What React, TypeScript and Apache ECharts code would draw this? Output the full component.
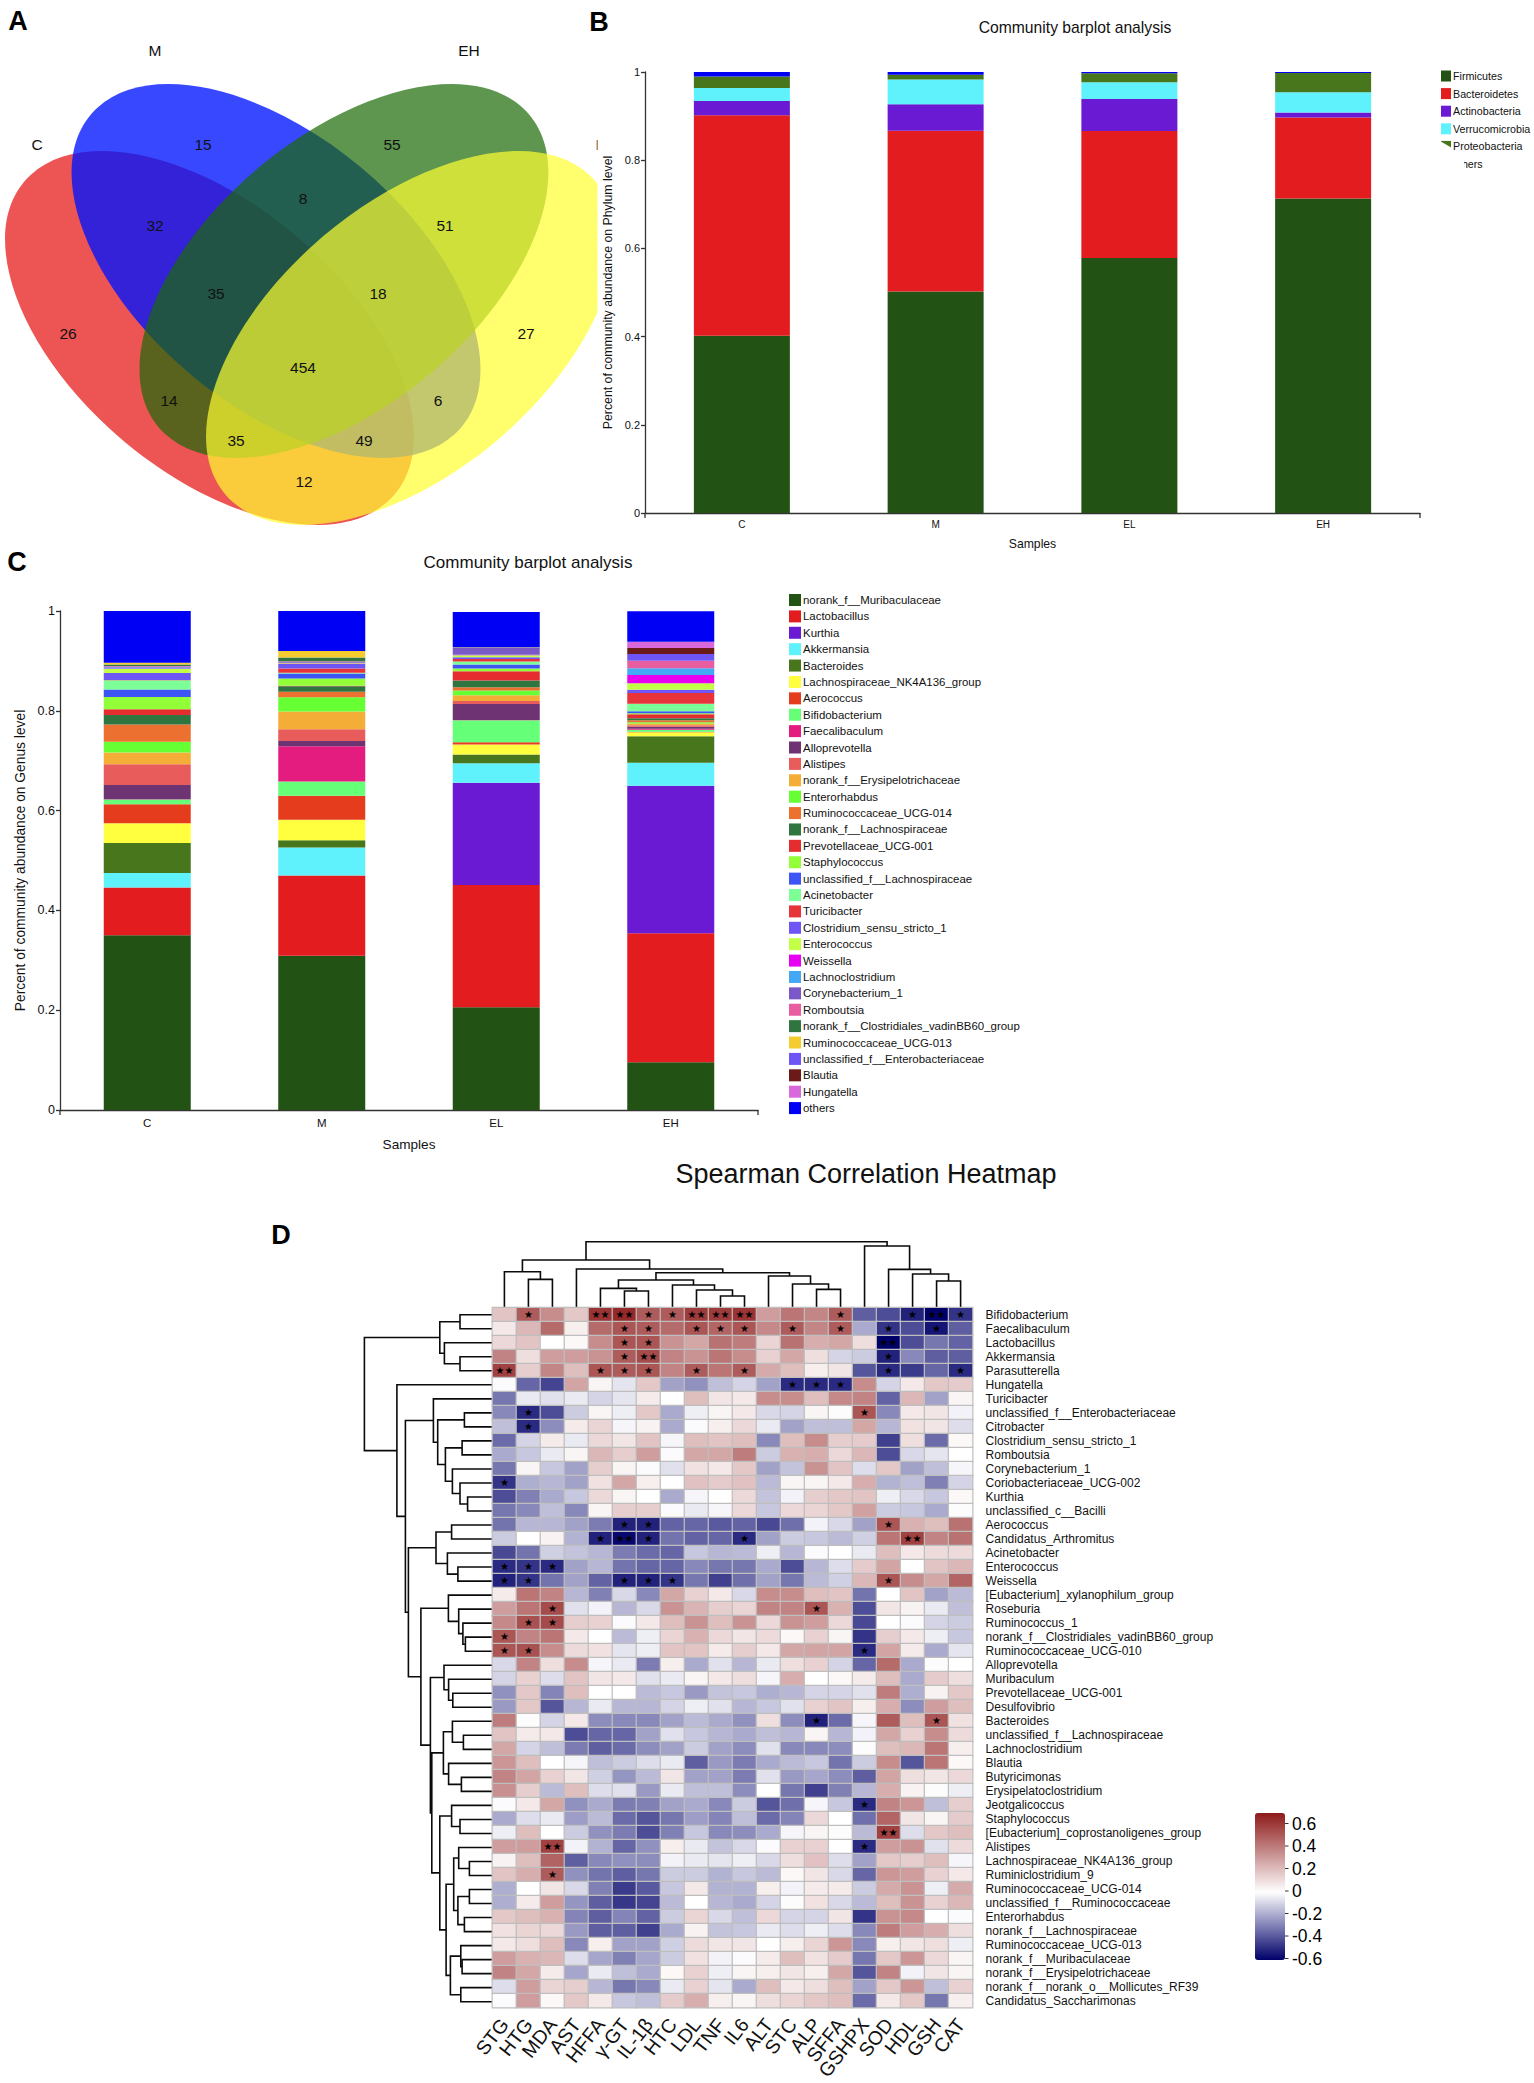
import React, { useEffect, useRef } from "react";
import * as echarts from "echarts";

const FONT = "Liberation Sans";
const INK = "#111111";

// ---------- Panel A ----------
const vennSets = [
  { name: "C", cx: 209.5, cy: 338, tilt: -1, fill: "rgba(230,20,20,0.72)" },
  { name: "M", cx: 276, cy: 271, tilt: -1, fill: "rgba(0,20,255,0.78)" },
  { name: "EH", cx: 344, cy: 271, tilt: 1, fill: "rgba(26,105,5,0.7)" },
  { name: "EL", cx: 410.5, cy: 338, tilt: 1, fill: "rgba(255,255,48,0.7)" },
];
const vennLabels: [string, number, number][] = [
  ["C", 37, 144], ["M", 155, 50], ["EH", 469, 50], ["EL", 605, 144],
];
const vennCounts: [string, number, number][] = [
  ["15", 203, 144], ["55", 392, 144], ["8", 303, 198], ["32", 155, 225], ["51", 445, 225],
  ["35", 216, 293], ["18", 378, 293], ["26", 68, 333], ["27", 526, 333], ["454", 303, 367],
  ["14", 169, 400], ["6", 438, 400], ["35", 236, 440], ["49", 364, 440], ["12", 304, 481],
];

// ---------- Panel B ----------
const samples = ["C", "M", "EL", "EH"];
const phylumNames = ["Firmicutes", "Bacteroidetes", "Actinobacteria", "Verrucomicrobia", "Proteobacteria", "others"];
const phylumColors = ["#225214", "#E31C1F", "#6A1AD2", "#5FF2FC", "#48761D", "#0000F5"];
const firmicutes = [0.402, 0.502, 0.578, 0.713];
const bacteroidetes = [0.5, 0.365, 0.288, 0.184];
const actinobacteria = [0.032, 0.06, 0.073, 0.011];
const verrucomicrobia = [0.03, 0.056, 0.038, 0.046];
const proteobacteria = [0.026, 0.011, 0.02, 0.044];
const phylumOthers = [0.01, 0.006, 0.003, 0.002];
const phylumValues = [firmicutes, bacteroidetes, actinobacteria, verrucomicrobia, proteobacteria, phylumOthers];

// ---------- Panel C ----------
const genusNames = [
  "norank_f__Muribaculaceae", "Lactobacillus", "Kurthia", "Akkermansia", "Bacteroides",
  "Lachnospiraceae_NK4A136_group", "Aerococcus", "Bifidobacterium", "Faecalibaculum", "Alloprevotella",
  "Alistipes", "norank_f__Erysipelotrichaceae", "Enterorhabdus", "Ruminococcaceae_UCG-014", "norank_f__Lachnospiraceae",
  "Prevotellaceae_UCG-001", "Staphylococcus", "unclassified_f__Lachnospiraceae", "Acinetobacter", "Turicibacter",
  "Clostridium_sensu_stricto_1", "Enterococcus", "Weissella", "Lachnoclostridium", "Corynebacterium_1",
  "Romboutsia", "norank_f__Clostridiales_vadinBB60_group", "Ruminococcaceae_UCG-013", "unclassified_f__Enterobacteriaceae",
  "Blautia", "Hungatella", "others",
];
const genusColors = [
  "#225214", "#E31C1F", "#6A1AD2", "#5FF2FC", "#48761D", "#FFFF40", "#E63C1E", "#66FF78",
  "#E51C7F", "#6E3372", "#E85C5C", "#F4AD36", "#66FF33", "#EC7030", "#2E7540", "#E52D30",
  "#92FF38", "#3D55F5", "#7BFF96", "#E63438", "#6E55F5", "#C2FF45", "#E800F0", "#45A8F5",
  "#7B58C8", "#E85CA0", "#2E7540", "#F5CC30", "#6E55F5", "#6B1A1A", "#D868DC", "#0000F5",
];
const genusC = [.350, .096, 0, .029, .060, .0395, .038, .0095, .0005, .029, .0416, .0234, .0217, .0343, .019, .0117, .0243, .015, .0185, .0005, .0145, .0077, .001, .002, .002, .001, .003, .0037, 0, 0, 0, .1046];
const genusM = [.309, .161, 0, .056, .0144, .0412, .0484, .0285, .0705, .0103, .0237, .0357, .0283, .0114, .011, .0006, .0145, .0103, .0016, .0086, .0088, .0016, .0004, .0007, .002, .001, .0075, .013, 0, 0, 0, .08];
const genusEL = [.206, .245, .205, .039, .0174, .0201, .0045, .044, .0005, .032, .006, .0117, .0093, .0067, .0133, .0187, .0054, .008, .006, .0054, .0033, .004, .0005, .0005, .0135, .0005, .0005, .0005, 0, 0, 0, .0708];
const genusEH = [.0959, .2581, .2958, .0459, .0531, .008, .001, .004, .002, .004, .003, .0035, .0026, .004, .004, .008, .0024, .004, .015, .0213, .0067, .0127, .0167, .0134, .0003, .015, 0, 0, .0133, .012, .0128, .0608];
const genusBySample = [genusC, genusM, genusEL, genusEH];

// ---------- Panel D ----------
const heatCols = ["STG", "HTG", "MDA", "AST", "HFFA", "γ-GT", "IL-1β", "HTC", "LDL", "TNF", "IL6", "ALT", "STC", "ALP", "SFFA", "GSHPX", "SOD", "HDL", "GSH", "CAT"];
const heatRows = [
  "Bifidobacterium", "Faecalibaculum", "Lactobacillus", "Akkermansia", "Parasutterella", "Hungatella", "Turicibacter",
  "unclassified_f__Enterobacteriaceae", "Citrobacter", "Clostridium_sensu_stricto_1", "Romboutsia", "Corynebacterium_1",
  "Coriobacteriaceae_UCG-002", "Kurthia", "unclassified_c__Bacilli", "Aerococcus", "Candidatus_Arthromitus", "Acinetobacter",
  "Enterococcus", "Weissella", "[Eubacterium]_xylanophilum_group", "Roseburia", "Ruminococcus_1",
  "norank_f__Clostridiales_vadinBB60_group", "Ruminococcaceae_UCG-010", "Alloprevotella", "Muribaculum", "Prevotellaceae_UCG-001",
  "Desulfovibrio", "Bacteroides", "unclassified_f__Lachnospiraceae", "Lachnoclostridium", "Blautia", "Butyricimonas",
  "Erysipelatoclostridium", "Jeotgalicoccus", "Staphylococcus", "[Eubacterium]_coprostanoligenes_group", "Alistipes",
  "Lachnospiraceae_NK4A136_group", "Ruminiclostridium_9", "Ruminococcaceae_UCG-014", "unclassified_f__Ruminococcaceae",
  "Enterorhabdus", "norank_f__Lachnospiraceae", "Ruminococcaceae_UCG-013", "norank_f__Muribaculaceae",
  "norank_f__Erysipelotrichaceae", "norank_f__norank_o__Mollicutes_RF39", "Candidatus_Saccharimonas",
];
const heatValues = [
  [.18, .5, .35, .17, .62, .65, .5, .5, .6, .6, .62, .3, .42, .37, .5, -.38, -.42, -.52, -.6, -.48],
  [.07, .22, .45, .05, .45, .52, .5, .45, .52, .47, .52, .36, .5, .37, .5, -.2, -.48, -.42, -.55, -.38],
  [.12, .18, 0, .02, .35, .52, .52, .33, .27, .43, .4, .13, .43, .25, .27, .1, -.6, -.42, -.32, -.37],
  [.38, .1, .3, .3, .33, .5, .55, .38, .33, .42, .35, .14, .27, .1, -.1, -.12, -.52, -.28, -.38, -.38],
  [.58, .15, .37, .2, .52, .5, .52, .38, .5, .42, .5, .26, .2, .05, .08, -.4, -.5, -.46, -.36, -.5],
  [-.01, -.36, -.44, .28, .03, -.06, .17, -.22, -.26, -.15, -.1, -.22, -.5, -.5, -.5, .35, -.1, .07, .17, .16],
  [-.32, -.05, -.07, -.05, -.1, -.06, .06, 0, .2, .08, .07, .35, .35, .2, .36, .38, -.37, .22, -.22, .03],
  [-.28, -.5, -.42, -.12, .03, -.04, .17, -.2, -.04, .03, .07, -.09, -.1, .03, .01, .52, -.28, .07, .08, -.03],
  [-.15, -.5, -.27, .06, .13, -.02, .04, -.2, -.01, .05, .12, -.05, -.22, -.15, -.15, .27, -.17, .09, .08, -.08],
  [-.35, -.1, .06, -.05, .12, .08, .18, -.02, .2, .18, .2, -.28, .2, .35, .15, .16, -.45, .1, -.35, .02],
  [-.2, -.13, -.05, .03, .22, .15, .3, -.01, .27, .27, .4, -.12, .24, .25, .12, .22, -.42, -.09, -.06, 0],
  [-.32, .03, -.13, -.22, .15, .03, -.01, -.07, .09, .07, .17, -.22, -.14, .33, .18, -.08, .17, -.22, -.15, -.02],
  [-.48, -.19, -.17, -.22, .09, .27, .05, 0, .19, .16, .19, -.16, .03, .03, .07, .25, -.18, -.15, -.3, -.1],
  [-.42, -.3, -.2, -.13, .12, .03, 0, -.2, -.02, 0, .12, -.14, -.03, .15, .17, .18, -.04, -.09, -.13, .02],
  [-.32, -.28, -.15, -.28, .03, .15, .15, -.01, -.05, -.02, .12, -.13, .12, .13, .17, .29, -.12, -.13, -.2, .01],
  [-.33, -.17, -.17, -.22, -.31, -.52, -.52, -.37, -.36, -.39, -.37, -.43, -.34, -.03, -.09, -.22, .52, .24, .2, .43],
  [-.12, 0, .04, -.18, -.52, -.58, -.52, -.33, -.37, -.36, -.5, -.22, -.12, -.13, -.16, -.11, .42, .58, .38, .43],
  [-.43, -.33, -.11, -.14, -.17, -.31, -.35, -.36, -.13, -.17, -.16, -.04, -.17, -.01, 0, -.05, .2, .07, .11, .11],
  [-.5, -.48, -.5, -.22, -.17, -.33, -.36, -.36, -.28, -.32, -.32, -.2, -.42, -.17, -.08, .16, .28, 0, .18, .22],
  [-.52, -.48, -.33, -.22, -.37, -.52, -.52, -.48, -.32, -.45, -.34, -.22, -.32, -.16, -.11, .22, .52, .35, .27, .47],
  [.06, .42, .38, -.17, -.3, -.09, -.28, .27, .14, .07, -.09, .35, .35, .2, .18, -.33, 0, .18, -.22, -.16],
  [.3, .42, .55, -.07, -.03, -.17, -.09, .33, .23, .15, .13, .38, .38, .52, .24, -.42, .08, .04, -.05, -.15],
  [.36, .53, .55, .15, .14, -.01, .07, .2, .33, .2, .33, .12, .33, .3, .12, -.43, 0, -.01, -.1, -.12],
  [.52, .38, .42, .07, 0, -.16, -.04, .13, .24, .12, .08, .11, .02, .14, .03, -.48, .15, .07, -.04, -.13],
  [.52, .53, .35, .11, .09, -.06, -.04, .18, .18, .06, .15, .07, .27, .28, .28, -.5, .28, .06, -.2, -.06],
  [-.09, .38, .1, .35, -.02, -.05, -.31, .05, -.2, -.07, -.17, -.05, .1, .14, -.1, -.36, .45, -.2, .01, 0],
  [-.1, .14, -.08, .18, .08, .07, -.07, -.05, .03, .07, .1, -.02, .25, 0, .02, .06, .2, -.2, .16, .1],
  [-.26, .17, -.29, .2, 0, 0, -.16, -.13, -.24, -.14, -.13, -.19, -.17, -.1, -.1, -.07, .4, -.19, .04, .17],
  [-.24, .17, -.4, -.17, -.05, -.17, -.17, -.1, -.04, -.07, -.17, -.13, -.07, .14, .18, .05, .25, -.27, .3, .2],
  [.4, .01, -.1, .07, -.27, -.28, -.28, -.22, -.16, -.2, -.26, .1, -.27, -.52, -.35, -.02, .5, .2, .52, .09],
  [.18, .06, .07, -.42, -.36, -.36, -.22, -.07, -.13, -.17, -.2, -.15, -.17, .03, -.17, -.03, .27, .14, .35, .11],
  [.27, -.1, -.15, -.31, -.38, -.35, -.27, -.22, -.12, -.22, -.27, -.07, -.28, -.28, -.27, .01, .2, .22, .42, .05],
  [.32, .2, 0, -.02, -.15, -.12, -.08, -.05, -.38, -.24, -.31, -.2, -.16, -.13, -.33, -.12, .35, -.4, .42, .02],
  [.38, .28, .14, .08, -.11, -.25, -.16, .08, -.22, -.22, -.31, -.07, -.24, -.21, -.27, -.38, .28, .1, .08, .12],
  [.34, .15, -.16, .2, -.08, -.07, -.24, -.05, -.15, -.15, -.27, 0, -.32, -.45, -.3, -.17, .25, .04, .01, -.04],
  [-.01, .07, .27, -.26, -.2, -.31, -.3, -.22, -.2, -.28, -.12, -.4, -.34, -.02, -.13, -.5, .38, .32, -.15, .15],
  [-.2, -.08, -.05, -.23, -.16, -.35, -.4, -.32, -.23, -.29, -.15, -.35, -.29, .12, 0, -.34, .47, .08, .03, .16],
  [-.04, .2, 0, -.12, -.26, -.31, -.42, -.3, -.13, -.28, -.27, -.2, -.02, .03, .01, -.16, .58, -.08, .17, .2],
  [.3, .3, .58, -.03, -.18, -.36, -.26, .05, -.05, -.14, -.09, -.01, .14, .14, 0, -.5, .3, .33, -.07, .11],
  [.04, .2, .48, -.38, -.28, -.26, -.27, -.03, -.05, -.06, -.04, -.09, .1, .19, -.08, -.22, .17, .15, .2, -.02],
  [.18, .25, .5, -.26, -.33, -.38, -.32, -.12, -.12, -.18, -.13, -.16, .02, .08, -.09, -.36, .32, .3, .14, .07],
  [-.19, 0, .08, -.09, -.3, -.46, -.39, -.13, .07, -.18, -.18, .05, -.03, .06, .06, -.12, .26, .33, -.04, .26],
  [-.19, .06, .3, -.25, -.38, -.47, -.44, -.16, 0, -.17, -.2, -.1, .01, .09, -.09, -.16, .2, .33, .14, .22],
  [.17, .2, .24, -.29, -.38, -.29, -.37, -.12, .13, -.09, -.15, .12, -.1, -.1, .08, -.48, .33, .36, 0, -.01],
  [.09, .13, .12, -.24, -.38, -.38, -.45, -.2, .04, -.14, -.13, -.05, -.08, -.04, -.08, -.28, .4, .3, .25, .1],
  [.07, .1, .2, -.28, .05, -.22, -.22, -.11, .11, .08, .08, 0, .05, .13, .32, -.28, .05, .08, .1, -.04],
  [.3, .24, .22, -.08, -.21, -.3, -.21, -.12, .09, -.03, -.01, .06, .2, .09, .16, -.32, .17, .32, .12, .03],
  [.38, .27, .06, -.21, -.05, -.15, -.2, .02, .14, -.04, .03, .05, .08, .05, .27, -.4, .38, -.03, .08, .03],
  [-.08, .3, .13, .15, -.17, -.32, -.28, -.05, .14, -.06, -.2, .2, .07, .1, .2, -.22, .17, .32, -.15, .14],
  [-.01, .3, .02, .17, .07, -.13, -.15, .16, .25, .05, .03, .1, .13, .17, .2, -.35, .07, .17, -.32, .05],
];
// row -> [column, number of stars]
const starCells: Record<number, [number, number][]> = {
  0: [[1, 1], [4, 2], [5, 2], [6, 1], [7, 1], [8, 2], [9, 2], [10, 2], [14, 1], [17, 1], [18, 2], [19, 1]],
  1: [[5, 1], [6, 1], [8, 1], [9, 1], [10, 1], [12, 1], [14, 1], [16, 1], [18, 1]],
  2: [[5, 1], [6, 1], [16, 2]],
  3: [[5, 1], [6, 2], [16, 1]],
  4: [[0, 2], [4, 1], [5, 1], [6, 1], [8, 1], [10, 1], [16, 1], [19, 1]],
  5: [[12, 1], [13, 1], [14, 1]],
  7: [[1, 1], [15, 1]],
  8: [[1, 1]],
  12: [[0, 1]],
  15: [[5, 1], [6, 1], [16, 1]],
  16: [[4, 1], [5, 2], [6, 1], [10, 1], [17, 2]],
  18: [[0, 1], [1, 1], [2, 1]],
  19: [[0, 1], [1, 1], [5, 1], [6, 1], [7, 1], [16, 1]],
  21: [[2, 1], [13, 1]],
  22: [[1, 1], [2, 1]],
  23: [[0, 1]],
  24: [[0, 1], [1, 1], [15, 1]],
  29: [[13, 1], [18, 1]],
  35: [[15, 1]],
  37: [[16, 2]],
  38: [[2, 2], [15, 1]],
  40: [[2, 1]],
};
const colorbarTicks = [0.6, 0.4, 0.2, 0, -0.2, -0.4, -0.6];
const heatPalette = [
  "#00006B", "#2A2A82", "#55559C", "#8080B5", "#AAAACE", "#D4D4E6", "#FFFFFF",
  "#EFDEDE", "#DFBEBE", "#CF9D9D", "#BE7C7C", "#AE5B5B", "#9E3B3B", "#8E1A1A",
];

// dendrograms: a leaf is an index, a merge is [height, branch, branch]
type Tree = number | [number, Tree, Tree];
const colTree: Tree = [66,
  [47.7,
    [36, 0, [28.3, 1, 2]],
    [38.7, 3,
      [35,
        [27.7,
          [19.3, 4, [16.7, 5, 6]],
          [22.7, 7, [17.7, 8, [11.7, 9, 10]]]],
        [31.7, 11, [23.7, 12, [18.3, 13, 14]]]]]],
  [61.7, 15, [38.3, 16, [33.7, 17, [26.7, 18, 19]]]],
];
const rowClusterTop: Tree = [52.6, [32.4, 0, 1], [48, 2, [32.4, 3, 4]]];
const rowClusterBlueA: Tree = [59, 6,
  [54.7,
    [28, 7, 8],
    [47, [30.3, 9, 10], [40, 11, [32.4, 12, [24.8, 13, 14]]]]]];
const rowClusterBlueB: Tree = [56.4, [40.8, 15, 16], [45, 17, [34.5, 18, 19]]];
const rowClusterRed: Tree = [44, 20, [33.7, 21, [29.5, 22, [27, 23, 24]]]];
const rowClusterMid: Tree = [48.4, 25, [43.8, 26, [39.6, 27, 28]]];
const rowClusterLow: Tree = [49, [40, 29, [29, 30, 31]], [43.8, 32, [31, 33, 34]]];
const rowClusterTail: Tree = [52.6,
  [40.8, 35, [32.4, 36, 37]],
  [46.3,
    [38.7, [33.7, 38, [23, 39, 40]], [34.5, [23, 41, 42], [28, 43, 44]]],
    [42, [31.6, 45, [30.3, 46, 47]], [31.6, 48, 49]]]];
const rowTree: Tree = [128,
  rowClusterTop,
  [95.5, 5,
    [87,
      rowClusterBlueA,
      [84,
        rowClusterBlueB,
        [71.5,
          rowClusterRed,
          [62, rowClusterMid, [60.6, rowClusterLow, rowClusterTail]]]]]],
];

const H = { left: 492.4, top: 1307.7, width: 480.2, height: 701 };

function dendro(tree: Tree, leafPos: (i: number) => number, toPoint: (pos: number, h: number) => number[]) {
  const lines: any[] = [];
  const walk = (t: Tree): { pos: number; h: number } => {
    if (typeof t === "number") return { pos: leafPos(t), h: 0 };
    const a = walk(t[1]);
    const b = walk(t[2]);
    lines.push({
      type: "polyline",
      shape: { points: [toPoint(a.pos, a.h), toPoint(a.pos, t[0]), toPoint(b.pos, t[0]), toPoint(b.pos, b.h)] },
      style: { stroke: "#0a0a0a", lineWidth: 1.6, fill: "none" },
      silent: true,
    });
    return { pos: (a.pos + b.pos) / 2, h: t[0] };
  };
  walk(tree);
  return lines;
}

function text(s: string, x: number, y: number, fontSize: number, extra: any = {}) {
  return {
    type: "text", x, y, silent: true,
    style: { text: s, fontSize, fontFamily: FONT, fill: INK, align: "center", verticalAlign: "middle", ...extra },
  };
}

function buildOption() {
  const cellW = H.width / heatCols.length;
  const cellH = H.height / heatRows.length;
  const graphic: any[] = [];

  // Venn
  vennSets.forEach((s) => {
    graphic.push({
      type: "group", x: s.cx, y: s.cy, scaleX: 2.045, scaleY: 1.87, silent: true,
      children: [{
        type: "ellipse", rotation: (s.tilt * Math.PI) / 4,
        shape: { cx: 0, cy: 0, rx: 123.5, ry: 68.8 }, style: { fill: s.fill }, silent: true,
      }],
    });
  });
  vennLabels.forEach(([t, x, y]) => graphic.push(text(t, x, y, 15.5)));
  vennCounts.forEach(([t, x, y]) => graphic.push(text(t, x, y, 15.5)));
  graphic.push({ type: "rect", shape: { x: 597.5, y: 130, width: 22, height: 230 }, style: { fill: "#fff" }, z: 1, silent: true });

  // panel letters
  graphic.push(text("A", 18, 21, 27, { fontWeight: "bold", fill: "#000" }));
  graphic.push(text("B", 599, 22, 27, { fontWeight: "bold", fill: "#000" }));
  graphic.push(text("C", 17, 562, 27, { fontWeight: "bold", fill: "#000" }));
  graphic.push(text("D", 281, 1235, 27, { fontWeight: "bold", fill: "#000" }));

  // legend B
  phylumNames.forEach((n, i) => {
    const y = 76 + i * 17.6;
    graphic.push({ type: "rect", shape: { x: 1441, y: y - 5.5, width: 10, height: 11 }, style: { fill: phylumColors[i] }, silent: true });
    graphic.push(text(n, 1453, y, 10.7, { align: "left" }));
  });
  graphic.push({ type: "polygon", shape: { points: [[1440, 141], [1452, 148], [1452, 152], [1440, 152]] }, style: { fill: "#fff" }, z: 10, silent: true });
  graphic.push({ type: "rect", shape: { x: 1438, y: 156, width: 26, height: 16 }, style: { fill: "#fff" }, z: 10, silent: true });

  // legend C
  genusNames.forEach((n, i) => {
    const y = 600 + i * 16.39;
    graphic.push({ type: "rect", shape: { x: 789, y: y - 6, width: 12, height: 12 }, style: { fill: genusColors[i] }, silent: true });
    graphic.push(text(n, 803, y, 11.45, { align: "left" }));
  });

  // axis end ticks
  [[645, 513], [1420, 513], [60, 1110], [758, 1110]].forEach(([x, y]) =>
    graphic.push({ type: "line", shape: { x1: x, y1: y, x2: x, y2: y + 5 }, style: { stroke: "#333", lineWidth: 1.3 }, silent: true }));

  // dendrograms
  graphic.push(...dendro(colTree, (i) => H.left + cellW * (i + 0.5), (p, h) => [p, H.top - h]));
  graphic.push(...dendro(rowTree, (i) => H.top + cellH * (i + 0.5), (p, h) => [H.left - h, p]));

  // colour bar ticks
  colorbarTicks.forEach((v) => {
    const y = 1891 - v * 112.5;
    graphic.push({ type: "line", shape: { x1: 1285, y1: y, x2: 1288.5, y2: y }, style: { stroke: "#333", lineWidth: 1 }, silent: true });
    graphic.push(text(String(v), 1292, y, 17.5, { align: "left", fill: "#000" }));
  });

  const baseAxisLine = { lineStyle: { color: "#333", width: 1.3 } };
  const catAxis = (gridIndex: number, fontSize: number, nameSize: number, margin: number, nameGap: number) => ({
    type: "category", gridIndex, data: samples, name: "Samples", nameLocation: "middle", nameGap,
    nameTextStyle: { fontSize: nameSize, color: INK, fontFamily: FONT },
    axisLine: baseAxisLine,
    axisTick: { alignWithLabel: true, length: 5, lineStyle: { color: "#333", width: 1.3 } },
    axisLabel: { fontSize, color: INK, fontFamily: FONT, margin },
  });
  const valAxis = (gridIndex: number, name: string, fontSize: number, nameSize: number, nameGap: number) => ({
    type: "value", gridIndex, min: 0, max: 1, interval: 0.2, name, nameLocation: "middle", nameGap, z: 3,
    nameTextStyle: { fontSize: nameSize, color: INK, fontFamily: FONT },
    axisLine: { show: true, ...baseAxisLine },
    axisTick: { show: true, length: 4, lineStyle: { color: "#333", width: 1.3 } },
    axisLabel: { fontSize, color: INK, fontFamily: FONT, margin: 5 },
    splitLine: { show: false },
  });

  const series: any[] = [];
  phylumNames.forEach((n, i) => series.push({
    type: "bar", name: n, stack: "phylum", xAxisIndex: 0, yAxisIndex: 0, barWidth: 96,
    data: phylumValues[i], itemStyle: { color: phylumColors[i] },
  }));
  genusNames.forEach((n, i) => series.push({
    type: "bar", name: n, stack: "genus", xAxisIndex: 1, yAxisIndex: 1, barWidth: 87,
    data: genusBySample.map((g) => g[i]), itemStyle: { color: genusColors[i] },
  }));

  const starLookup = new Map<string, number>();
  Object.entries(starCells).forEach(([r, list]) => list.forEach(([c, n]) => starLookup.set(`${c}_${r}`, n)));
  const heatData: any[] = [];
  heatValues.forEach((row, r) => row.forEach((v, c) => heatData.push([c, r, v])));
  const heatIndex = series.length;
  series.push({
    type: "heatmap", xAxisIndex: 2, yAxisIndex: 2, data: heatData,
    itemStyle: { borderColor: "#BEBEBE", borderWidth: 1.2 },
    label: {
      show: true, fontSize: 10, color: "#000", fontFamily: "DejaVu Sans",
      formatter: (p: any) => "★".repeat(starLookup.get(`${p.data[0]}_${p.data[1]}`) || 0),
    },
    emphasis: { disabled: true },
  });

  return {
    animation: false,
    backgroundColor: "#fff",
    textStyle: { fontFamily: FONT },
    title: [
      { text: "Community barplot analysis", left: 1070, top: 14, textAlign: "center", textStyle: { fontSize: 15.7, fontWeight: "normal", color: INK, fontFamily: FONT } },
      { text: "Community barplot analysis", left: 523, top: 549, textAlign: "center", textStyle: { fontSize: 17, fontWeight: "normal", color: INK, fontFamily: FONT } },
      { text: "Spearman Correlation Heatmap", left: 861, top: 1155, textAlign: "center", textStyle: { fontSize: 27, fontWeight: "normal", color: INK, fontFamily: FONT } },
    ],
    grid: [
      { left: 645, top: 72, width: 775, height: 441 },
      { left: 60, top: 611, width: 698, height: 499 },
      { left: H.left, top: H.top, width: H.width, height: H.height },
    ],
    xAxis: [
      catAxis(0, 10, 12.2, 6, 25),
      catAxis(1, 11.5, 13.6, 7, 27),
      {
        type: "category", gridIndex: 2, data: heatCols, position: "bottom",
        axisLine: { show: false }, axisTick: { show: false }, splitLine: { show: false },
        axisLabel: { interval: 0, rotate: 52, fontSize: 19.5, color: INK, fontFamily: FONT, margin: 13 },
      },
    ],
    yAxis: [
      valAxis(0, "Percent of community abundance on Phylum level", 11, 12.3, 25),
      valAxis(1, "Percent of community abundance on Genus level", 12.5, 13.8, 33),
      {
        type: "category", gridIndex: 2, data: heatRows, inverse: true, position: "right",
        axisLine: { show: false }, axisTick: { show: false }, splitLine: { show: false },
        axisLabel: { interval: 0, fontSize: 12, color: INK, fontFamily: FONT, margin: 13 },
      },
    ],
    visualMap: {
      type: "continuous", seriesIndex: heatIndex, min: -0.6, max: 0.7, dimension: 2,
      show: true, orient: "vertical", left: 1255, top: 1813, itemWidth: 30, itemHeight: 147, padding: 0,
      calculable: false, hoverLink: false, inRange: { color: heatPalette },
    },
    graphic: { elements: graphic },
    series,
  };
}

export default function App() {
  const ref = useRef<HTMLDivElement>(null);
  useEffect(() => {
    const chart = echarts.init(ref.current!, undefined, { renderer: "svg" });
    chart.setOption(buildOption() as any);
    return () => chart.dispose();
  }, []);
  return <div ref={ref} style={{ position: "absolute", left: 0, top: 0, width: 1534, height: 2083 }} />;
}
